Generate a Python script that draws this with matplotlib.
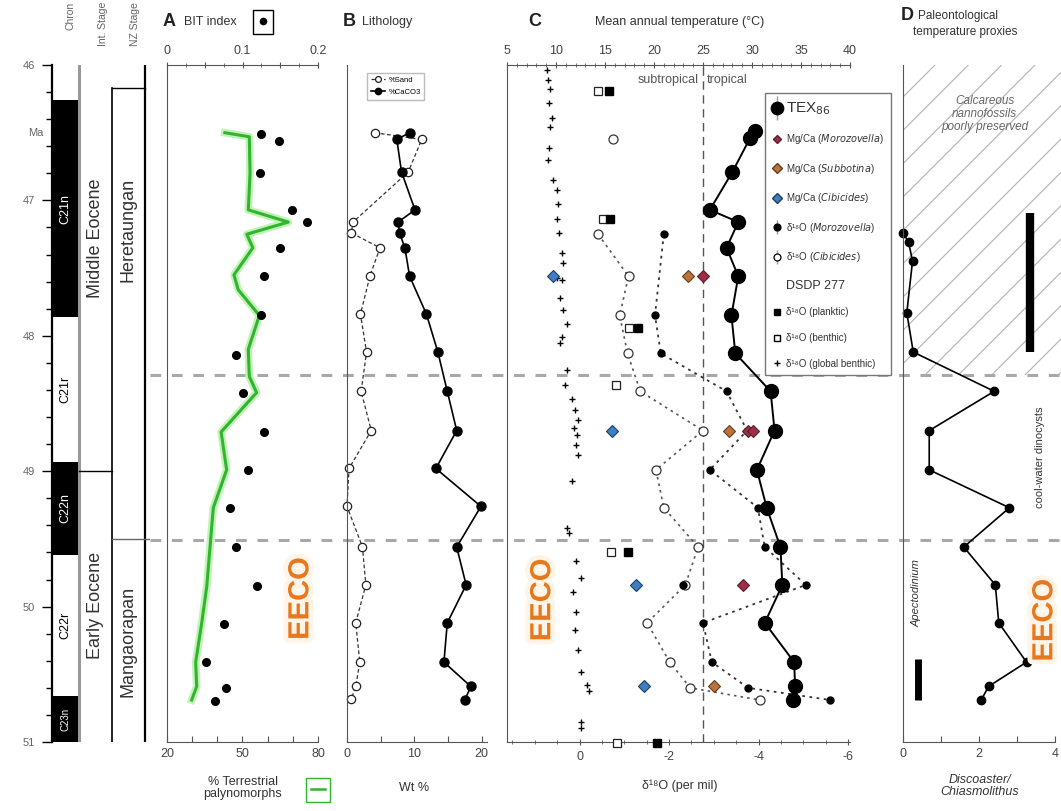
import numpy as np
import matplotlib.pyplot as plt
from matplotlib.lines import Line2D
from matplotlib.patches import Rectangle
from matplotlib.ticker import MultipleLocator
import matplotlib.patheffects as pe

plt.rcParams['font.family'] = ['Liberation Sans', 'DejaVu Sans']
plt.rcParams['axes.unicode_minus'] = False
plt.rcParams['hatch.linewidth'] = 0.8

W, H = 1061, 811
Y_TOP, Y_BOT = 65, 742            # pixel rows of 46 and 51 Ma
AGE_MIN, AGE_MAX = 46.0, 51.0

# ── stratigraphy ─────────────────────────────
chron_top = [46.26, 47.86, 48.93, 49.62, 50.66]
chron_base = [47.86, 48.93, 49.62, 50.66, 51.0]
chron_name = ['C21n', 'C21r', 'C22n', 'C22r', 'C23n']
chron_normal = [True, False, True, False, True]
int_stage_boundary = 49.0
nz_stage_top = 46.17
nz_stage_boundary = 49.5
eeco_bounds = [48.29, 49.51]

# ── A: BIT index and terrestrial palynomorphs ─
bit_age = [46.51, 46.56, 46.80, 47.07, 47.16, 47.35, 47.56, 47.85, 48.14, 48.42,
           48.71, 48.99, 49.27, 49.56, 49.85, 50.13, 50.41, 50.60, 50.70]
bit_val = [0.125, 0.148, 0.123, 0.166, 0.186, 0.150, 0.129, 0.125, 0.092, 0.101,
           0.129, 0.107, 0.083, 0.091, 0.119, 0.075, 0.051, 0.078, 0.064]
terr_age = [46.50, 46.53, 46.80, 47.07, 47.16, 47.25, 47.35, 47.55, 47.66, 47.85, 48.10,
            48.30, 48.42, 48.71, 48.99, 49.27, 49.56, 49.85, 50.12, 50.41, 50.59, 50.69]
terr_pct = [43.0, 52.7, 53.0, 52.3, 68.2, 51.7, 54.1, 46.6, 48.3, 56.7, 52.3,
            52.7, 55.6, 41.5, 43.7, 38.4, 37.1, 35.8, 33.8, 31.4, 31.8, 29.8]

# ── B: lithology ─────────────────────────────
sand_age = [46.50, 46.55, 46.79, 47.16, 47.24, 47.35, 47.56, 47.84, 48.12, 48.41,
            48.70, 48.98, 49.26, 49.56, 49.84, 50.12, 50.41, 50.59, 50.68]
sand_pct = [4.1, 11.1, 9.1, 0.9, 0.65, 4.9, 3.4, 2.0, 2.9, 2.1,
            3.6, 0.3, 0.0, 2.3, 2.8, 1.3, 1.9, 1.3, 0.65]
caco3_age = [46.50, 46.55, 46.79, 47.07, 47.16, 47.24, 47.35, 47.56, 47.84, 48.12,
             48.41, 48.70, 48.98, 49.26, 49.56, 49.84, 50.12, 50.41, 50.59, 50.69]
caco3_pct = [9.3, 7.4, 8.1, 10.1, 7.6, 7.8, 8.6, 9.3, 11.8, 13.5,
             14.9, 16.3, 13.2, 19.9, 16.3, 17.7, 14.9, 14.4, 18.4, 17.5]

# ── C: temperature proxies (°C on top axis) ───
tex_age = [46.49, 46.54, 46.79, 47.07, 47.16, 47.35, 47.56, 47.85, 48.13, 48.41,
           48.70, 48.99, 49.27, 49.56, 49.84, 50.12, 50.41, 50.59, 50.69]
tex_temp = [30.3, 29.8, 28.0, 25.7, 28.6, 27.4, 28.6, 27.9, 28.3, 31.9,
            32.3, 30.5, 31.5, 32.9, 33.1, 31.3, 34.3, 34.4, 34.2]
mg_moro_age = [47.56, 48.70, 48.70, 49.84]
mg_moro_temp = [25.0, 29.6, 30.1, 29.1]
mg_subb_age = [47.56, 48.70, 50.59]
mg_subb_temp = [23.5, 27.7, 26.1]
mg_cib_age = [47.56, 48.70, 49.84, 50.59]
mg_cib_temp = [9.7, 15.7, 18.2, 19.0]
d18_moro_age = [47.25, 47.85, 48.13, 48.41, 48.70, 48.99, 49.27, 49.56, 49.84,
                50.12, 50.41, 50.60, 50.69]
d18_moro_temp = [21.0, 20.1, 20.7, 27.4, 29.5, 25.7, 30.6, 31.3, 35.5,
                 25.0, 25.9, 29.6, 38.0]
d18_moro_extra_age = [49.84]
d18_moro_extra_temp = [23.0]
d18_cib_age = [46.55, 47.25, 47.56, 47.85, 48.13, 48.41, 48.70, 48.99, 49.27, 49.56,
               49.84, 50.12, 50.41, 50.60, 50.69]
d18_cib_temp = [15.8, 14.3, 17.4, 16.5, 17.3, 18.6, 25.0, 20.2, 21.0, 24.5,
                23.2, 19.3, 21.6, 23.7, 30.8]
dsdp_plank_age = [46.19, 47.14, 47.94, 49.60, 51.01]
dsdp_plank_temp = [15.4, 15.5, 18.4, 17.3, 20.3]
dsdp_benth_age = [46.19, 47.14, 47.94, 48.36, 49.60, 51.01]
dsdp_benth_temp = [14.3, 14.8, 17.4, 16.1, 15.6, 16.2]
glob_age = [46.04, 46.11, 46.18, 46.28, 46.39, 46.46, 46.61, 46.70, 46.85, 46.92,
            47.03, 47.14, 47.24, 47.39, 47.46, 47.57, 47.59, 47.72, 47.81, 47.91,
            48.01, 48.05, 48.25, 48.36, 48.47, 48.55, 48.62, 48.68, 48.73, 48.81,
            48.88, 49.07, 49.42, 49.46, 49.66, 49.79, 49.89, 50.04, 50.17, 50.32,
            50.48, 50.58, 50.62, 50.85, 50.90]
glob_temp = [9.05, 9.2, 9.4, 9.3, 9.6, 9.4, 9.3, 9.2, 9.7, 10.1,
             10.2, 10.1, 10.3, 10.6, 10.7, 10.1, 10.6, 10.4, 10.7, 11.1,
             10.6, 10.4, 11.1, 10.9, 11.6, 11.9, 12.2, 11.8, 12.1, 12.0,
             12.2, 11.6, 11.1, 11.3, 12.0, 12.6, 11.7, 12.0, 11.9, 12.2,
             12.5, 13.2, 13.4, 12.6, 12.6]
TROPICAL_T = 25.0
D18O_ZERO_T, T_PER_PERMIL = 12.4, 4.57

# ── D: nannofossil ratio ─────────────────────
disc_age = [47.24, 47.31, 47.45, 47.83, 48.12, 48.41, 48.70, 48.99, 49.27, 49.56,
            49.84, 50.12, 50.41, 50.59, 50.69]
disc_ratio = [0.0, 0.15, 0.25, 0.1, 0.27, 2.4, 0.69, 0.69, 2.8, 1.6,
              2.43, 2.52, 3.25, 2.25, 2.06]
poor_pres = [46.0, 48.29]
cool_dino = [47.09, 48.12]
apecto = [50.39, 50.69]

TXT = '#333333'
SPINE = '#555555'
TICKC = '#444444'
ORANGE = '#e8781e'

fig = plt.figure(figsize=(W / 100, H / 100), dpi=100)


def rect(x0, x1):
    return [x0 / W, 1 - Y_BOT / H, (x1 - x0) / W, (Y_BOT - Y_TOP) / H]


def fx(x):
    return x / W


def fy(y):
    return 1 - y / H


def eeco(ax, x, y):
    ax.text(x, y, 'EECO', rotation=90, ha='center', va='center', fontsize=21,
            fontweight='bold', color=ORANGE,
            path_effects=[pe.withStroke(linewidth=7, foreground='#fff4e8')])


# dashed EECO bounds across the panels
axl = fig.add_axes(rect(150, W))
axl.set_xlim(0, 1)
axl.set_ylim(AGE_MAX, AGE_MIN)
axl.axis('off')
for a in eeco_bounds:
    axl.axhline(a, color='#a8a8a8', lw=2.2, dashes=(3.5, 3.5))

# ── chron / stage columns ────────────────────
ax0 = fig.add_axes(rect(52, 150))
ax0.set_xlim(52, 150)
ax0.set_ylim(AGE_MAX, AGE_MIN)
ax0.patch.set_visible(False)
ax0.spines[['top', 'right', 'bottom']].set_visible(False)
ax0.spines['left'].set_linewidth(1.6)
ax0.set_xticks([])
ax0.set_yticks(range(46, 52))
ax0.yaxis.set_minor_locator(MultipleLocator(0.2))
ax0.tick_params(axis='y', which='major', length=7, width=1, labelsize=8,
                labelcolor='#666', pad=5)
ax0.tick_params(axis='y', which='minor', length=4, width=1)
ax0.text(36, 46.5, 'Ma', ha='center', va='center', fontsize=8, color='#666')
for top, base, name, normal in zip(chron_top, chron_base, chron_name, chron_normal):
    ax0.add_patch(Rectangle((53, top), 25, base - top,
                            facecolor='k' if normal else 'w', edgecolor='none'))
    ax0.text(65.5, (top + base) / 2, name, rotation=90, ha='center', va='center',
             fontsize=9 if base - top > 0.5 else 7, color='w' if normal else 'k')
ax0.plot([79, 79], [AGE_MIN, AGE_MAX], color='#999', lw=2.2)
ax0.plot([79, 112], [int_stage_boundary] * 2, color='k', lw=1)
ax0.plot([112, 112], [nz_stage_top, AGE_MAX], color='k', lw=1.2)
ax0.plot([145, 145], [AGE_MIN, AGE_MAX], color='k', lw=1.6)
ax0.plot([112, 145], [nz_stage_top] * 2, color='k', lw=1)
ax0.plot([112, 150], [nz_stage_boundary] * 2, color='#666', lw=1)
ax0.text(96, 47.28, 'Middle Eocene', rotation=90, ha='center', va='center',
         fontsize=13, color=TXT)
ax0.text(96, 49.99, 'Early Eocene', rotation=90, ha='center', va='center',
         fontsize=13, color=TXT)
ax0.text(128.5, 47.22, 'Heretaungan', rotation=90, ha='center', va='center',
         fontsize=13, color=TXT)
ax0.text(128.5, 50.26, 'Mangaorapan', rotation=90, ha='center', va='center',
         fontsize=13, color=TXT)
for x, s in [(70, 'Chron'), (103, 'Int. Stage'), (135, 'NZ Stage')]:
    fig.text(fx(x), fy(2), s, rotation=90, ha='center', va='top', fontsize=7.5,
             color='#666')

# ── A ────────────────────────────────────────
ax_a = fig.add_axes(rect(167, 318))
ax_a.patch.set_visible(False)
ax_a.set_xlim(20, 80)
ax_a.set_ylim(AGE_MAX, AGE_MIN)
ax_a.set_yticks([])
ax_a.spines[['top', 'right']].set_visible(False)
ax_a.spines[['left', 'bottom']].set_color(SPINE)
ax_a.set_xticks([20, 30, 40, 50, 60, 70, 80], ['20', '', '', '50', '', '', '80'])
ax_a.tick_params(axis='x', direction='in', length=4, labelsize=9,
                 labelcolor=TICKC, color=SPINE, pad=4)
ax_a.plot(terr_pct, terr_age, color='#c2f2b6', lw=5.5, zorder=2)
ax_a.plot(terr_pct, terr_age, color='#2fb52f', lw=2.2, zorder=3)
eeco(ax_a, 73, 49.94)

ax_bit = ax_a.twiny()
ax_bit.patch.set_visible(False)
ax_bit.set_xlim(0, 0.2)
ax_bit.spines[['bottom', 'left', 'right']].set_visible(False)
ax_bit.spines['top'].set_color(SPINE)
ax_bit.set_xticks([0, 0.05, 0.1, 0.15, 0.2], ['0', '', '0.1', '', '0.2'])
ax_bit.xaxis.set_minor_locator(MultipleLocator(0.025))
ax_bit.tick_params(axis='x', which='major', direction='inout', length=5,
                   labelsize=9, labelcolor=TICKC, color=SPINE, pad=3)
ax_bit.tick_params(axis='x', which='minor', direction='inout', length=3, color=SPINE)
ax_bit.plot(bit_val, bit_age, 'o', color='k', ms=5.5, ls='none', zorder=4)

fig.text(fx(163), fy(22), 'A', fontsize=13, fontweight='bold', va='center', color='#222')
fig.text(fx(184), fy(22), 'BIT index', fontsize=9, va='center', color=TXT)
fig.legend([Line2D([], [], marker='o', ms=4.5, color='k', ls='none')], [''],
           loc='center', bbox_to_anchor=(fx(263), fy(22)), handlelength=0.8,
           handletextpad=0, borderpad=0.35, borderaxespad=0, fancybox=False,
           edgecolor='k', framealpha=1)
fig.text(fx(243), fy(788), '% Terrestrial\npalynomorphs', fontsize=9, ha='center',
         va='center', color=TXT, linespacing=1.0)
fig.legend([Line2D([], [], color='#2fb52f', lw=1.8)], [''],
           loc='center', bbox_to_anchor=(fx(318), fy(790)), handlelength=1.0,
           handletextpad=0, borderpad=0.35, borderaxespad=0, fancybox=False,
           edgecolor='#2fb52f', framealpha=1)

# ── B ────────────────────────────────────────
ax_b = fig.add_axes(rect(347, 487))
ax_b.patch.set_visible(False)
ax_b.set_xlim(0, 20.8)
ax_b.set_ylim(AGE_MAX, AGE_MIN)
ax_b.set_yticks([])
ax_b.spines[['top', 'right']].set_visible(False)
ax_b.spines[['left', 'bottom']].set_color(SPINE)
ax_b.set_xticks([0, 5, 10, 15, 20], ['0', '', '10', '', '20'])
ax_b.tick_params(axis='x', direction='in', length=4, labelsize=9,
                 labelcolor=TICKC, color=SPINE, pad=4)
h_sand, = ax_b.plot(sand_pct, sand_age, color='#333', lw=0.9, ls=(0, (3, 2)),
                    marker='o', ms=6, mfc='w', mec='#222', mew=0.9, clip_on=False)
h_caco3, = ax_b.plot(caco3_pct, caco3_age, color='k', lw=1.2, marker='o', ms=6.5,
                     mfc='k', mec='k', clip_on=False)
fig.text(fx(343), fy(22), 'B', fontsize=13, fontweight='bold', va='center', color='#222')
fig.text(fx(362), fy(22), 'Lithology', fontsize=9, va='center', color=TXT)
fig.text(fx(414), fy(788), 'Wt %', fontsize=9, ha='center', va='center', color=TXT)
fig.legend([h_sand, h_caco3], ['%Sand', '%CaCO3'], loc='upper left',
           bbox_to_anchor=(fx(367), fy(73)), fontsize=5.5, handlelength=1.8,
           handletextpad=0.5, borderpad=0.5, labelspacing=0.6, borderaxespad=0,
           fancybox=False, edgecolor='#bbb', framealpha=1, markerscale=0.7)

# ── C ────────────────────────────────────────
def t2d(t):
    return (D18O_ZERO_T - np.asarray(t, dtype=float)) / T_PER_PERMIL


def d2t(d):
    return D18O_ZERO_T - T_PER_PERMIL * np.asarray(d, dtype=float)


ax_c = fig.add_axes(rect(507, 850))
ax_c.patch.set_visible(False)
ax_c.set_xlim(5, 40)
ax_c.set_ylim(AGE_MAX, AGE_MIN)
ax_c.set_yticks([])
ax_c.spines[['right', 'bottom']].set_visible(False)
ax_c.spines[['left', 'top']].set_color(SPINE)
ax_c.xaxis.tick_top()
ax_c.set_xticks(range(5, 41, 5))
ax_c.xaxis.set_minor_locator(MultipleLocator(1))
ax_c.tick_params(axis='x', which='major', direction='inout', length=5, labelsize=9,
                 labelcolor=TICKC, color=SPINE, pad=3)
ax_c.tick_params(axis='x', which='minor', direction='inout', length=3, color=SPINE)
sec = ax_c.secondary_xaxis('bottom', functions=(t2d, d2t))
sec.set_xticks([0, -2, -4, -6])
sec.xaxis.set_minor_locator(MultipleLocator(0.5))
sec.spines['bottom'].set_color(SPINE)
sec.tick_params(axis='x', which='major', direction='inout', length=5, labelsize=9,
                labelcolor=TICKC, color=SPINE, pad=4)
sec.tick_params(axis='x', which='minor', direction='inout', length=3, color=SPINE)

ax_c.axvline(TROPICAL_T, color='#555', lw=1, dashes=(6, 4), zorder=1)
ax_c.text(TROPICAL_T - 0.4, 46.11, 'subtropical', ha='right', va='center',
          fontsize=9, color='#555')
ax_c.text(TROPICAL_T + 0.4, 46.11, 'tropical', ha='left', va='center',
          fontsize=9, color='#555')

ax_c.plot(glob_temp, glob_age, ls='none', marker='+', ms=5, mew=1, color='k')
ax_c.plot(d18_cib_temp[1:], d18_cib_age[1:], color='#555', lw=1.2, ls=(0, (1.5, 2.5)))
ax_c.plot(d18_cib_temp, d18_cib_age, ls='none', marker='o', ms=6.5, mfc='w',
          mec='#333', mew=0.9)
ax_c.plot(d18_moro_temp, d18_moro_age, color='#333', lw=1.3, ls=(0, (1.5, 2.5)),
          marker='o', ms=5, mfc='k', mec='k')
ax_c.plot(d18_moro_extra_temp, d18_moro_extra_age, ls='none', marker='o', ms=5,
          color='k')
ax_c.plot(tex_temp, tex_age, color='k', lw=1.4, marker='o', ms=10, mfc='k', mec='k')
ax_c.plot(mg_subb_temp, mg_subb_age, ls='none', marker='D', ms=6, mfc='#b8743c',
          mec='#6b3a22', mew=0.8)
ax_c.plot(mg_moro_temp, mg_moro_age, ls='none', marker='D', ms=6, mfc='#9c2f47',
          mec='#5a1f2a', mew=0.8)
ax_c.plot(mg_cib_temp, mg_cib_age, ls='none', marker='D', ms=6, mfc='#3d7fc0',
          mec='#1d3f66', mew=0.8)
ax_c.plot(dsdp_benth_temp, dsdp_benth_age, ls='none', marker='s', ms=6, mfc='w',
          mec='#222', mew=0.9, clip_on=False)
ax_c.plot(dsdp_plank_temp, dsdp_plank_age, ls='none', marker='s', ms=6, mfc='k',
          mec='k', clip_on=False, zorder=5)
eeco(ax_c, 8.6, 49.95)

fig.text(fx(528), fy(22), 'C', fontsize=13, fontweight='bold', va='center', color='#222')
fig.text(fx(680), fy(22), 'Mean annual temperature (°C)', fontsize=9, ha='center',
         va='center', color=TXT)
fig.text(fx(680), fy(786), 'δ¹⁸O (per mil)', fontsize=9, ha='center', va='center',
         color=TXT)


def bar_marker(fill, size):
    return (Line2D([], [], ls='none', marker='|', ms=size * 1.9, mew=1, color='#999'),
            Line2D([], [], ls='none', marker='o', ms=size, mfc=fill, mec='k', mew=0.9))


leg_handles = [
    bar_marker('k', 9),
    Line2D([], [], ls='none', marker='D', ms=4.5, mfc='#9c2f47', mec='#5a1f2a'),
    Line2D([], [], ls='none', marker='D', ms=5, mfc='#b8743c', mec='#6b3a22'),
    Line2D([], [], ls='none', marker='D', ms=5, mfc='#3d7fc0', mec='#1d3f66'),
    bar_marker('k', 5),
    bar_marker('w', 5),
    Line2D([], [], ls='none'),
    Line2D([], [], ls='none', marker='s', ms=5, mfc='k', mec='k'),
    Line2D([], [], ls='none', marker='s', ms=5, mfc='w', mec='k'),
    Line2D([], [], ls='none', marker='+', ms=5, mew=1, color='k'),
]
leg_labels = [
    'TEX$_{86}$',
    'Mg/Ca ($\\it{Morozovella}$)',
    'Mg/Ca ($\\it{Subbotina}$)',
    'Mg/Ca ($\\it{Cibicides}$)',
    'δ¹⁸O ($\\it{Morozovella}$)',
    'δ¹⁸O ($\\it{Cibicides}$)',
    'DSDP 277',
    'δ¹⁸O (planktic)',
    'δ¹⁸O (benthic)',
    'δ¹⁸O (global benthic)',
]
leg = fig.legend(leg_handles, leg_labels, loc='upper left',
                 bbox_to_anchor=(fx(765), fy(93)), fontsize=7, labelspacing=1.6,
                 handlelength=1.0, handletextpad=0.5, borderpad=0.7, borderaxespad=0,
                 fancybox=False, edgecolor='#777', framealpha=1)
texts = leg.get_texts()
texts[0].set_fontsize(11)
texts[6].set_fontsize(9)
for t in texts:
    t.set_color('#333')

# ── D ────────────────────────────────────────
ax_d = fig.add_axes(rect(903, 1055))
ax_d.patch.set_visible(False)
ax_d.set_xlim(0, 4)
ax_d.set_ylim(AGE_MAX, AGE_MIN)
ax_d.set_yticks([])
ax_d.spines[['top', 'right']].set_visible(False)
ax_d.spines[['left', 'bottom']].set_color(SPINE)
ax_d.set_xticks([0, 1, 2, 3, 4], ['0', '', '2', '', '4'])
ax_d.tick_params(axis='x', direction='in', length=4, labelsize=9,
                 labelcolor=TICKC, color=SPINE, pad=4)
ax_d.fill_betweenx(poor_pres, 0, 4.2, facecolor='none', edgecolor='#b3b3b3',
                   lw=0, hatch='/', clip_on=False, zorder=0)
ax_d.text(2.15, 46.36, 'Calcareous\nnannofossils\npoorly preserved', ha='center',
          va='center', fontsize=8.5, style='italic', color='#666', linespacing=1.1)
ax_d.plot(disc_ratio, disc_age, color='k', lw=1.2, marker='o', ms=6, clip_on=False)
ax_d.plot([3.35, 3.35], cool_dino, color='k', lw=6, solid_capstyle='butt')
ax_d.text(3.6, 48.9, 'cool-water dinocysts', rotation=90, ha='center', va='center',
          fontsize=8, color='#333')
ax_d.plot([0.4, 0.4], apecto, color='k', lw=5, solid_capstyle='butt')
ax_d.text(0.35, 49.9, 'Apectodinium', rotation=90, ha='center', va='center',
          fontsize=8, style='italic', color='#333')
eeco(ax_d, 3.72, 50.1)

fig.text(fx(901), fy(16), 'D', fontsize=13, fontweight='bold', va='center', color='#222')
fig.text(fx(918), fy(16), 'Paleontological', fontsize=8.5, va='center', color=TXT)
fig.text(fx(913), fy(32), 'temperature proxies', fontsize=8.5, va='center', color=TXT)
fig.text(fx(980), fy(786), 'Discoaster/\nChiasmolithus', fontsize=9, ha='center',
         va='center', style='italic', color=TXT, linespacing=1.0)

fig.savefig('out.png', dpi=100)
